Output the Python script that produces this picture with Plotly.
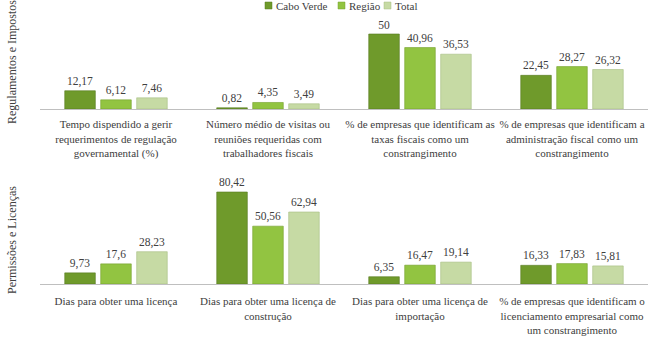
import plotly.graph_objects as go

W, H = 648, 344

series = ["Cabo Verde", "Região", "Total"]
colors = ["#6f9a2b", "#92c441", "#c6daa4"]
line_colors = ["#56781f", "#74a02c", "#a6bd82"]

cats_top = [
    "Tempo dispendido a gerir<br>requerimentos de regulação<br>governamental (%)",
    "Número médio de visitas ou<br>reuniões requeridas com<br>trabalhadores fiscais",
    "% de empresas que identificam as<br>taxas fiscais como um<br>constrangimento",
    "% de empresas que identificam a<br>administração fiscal como um<br>constrangimento",
]
cabo_top = [12.17, 0.82, 50, 22.45]
regiao_top = [6.12, 4.35, 40.96, 28.27]
total_top = [7.46, 3.49, 36.53, 26.32]

cats_bot = [
    "Dias para obter uma licença",
    "Dias para obter uma licença de<br>construção",
    "Dias para obter uma licença de<br>importação",
    "% de empresas que identificam o<br>licenciamento empresarial como<br>um constrangimento",
]
cabo_bot = [9.73, 80.42, 6.35, 16.33]
regiao_bot = [17.6, 50.56, 16.47, 17.83]
total_bot = [28.23, 62.94, 19.14, 15.81]

panel_titles = ["Regulamentos e Impostos", "Permissões e Licenças"]

FONT = "Liberation Serif, Times New Roman, serif"
TXT = "#404040"


def fmt(v):
    return f"{v:g}".replace(".", ",")


fig = go.Figure()
for cats, data, xa, ya in [
    (cats_top, [cabo_top, regiao_top, total_top], "x", "y"),
    (cats_bot, [cabo_bot, regiao_bot, total_bot], "x2", "y2"),
]:
    for i, name in enumerate(series):
        fig.add_trace(go.Bar(
            x=cats, y=data[i], name=name, xaxis=xa, yaxis=ya,
            marker=dict(color=colors[i], line=dict(color=line_colors[i], width=0.6)),
            text=[fmt(v) for v in data[i]], textposition="outside",
            textfont=dict(family=FONT, size=11.5, color=TXT),
            cliponaxis=False, showlegend=False,
        ))

xdom = [40 / W, 1.0]
axis_common = dict(showline=True, linecolor="#bfbfbf", linewidth=1, ticks="",
                   tickfont=dict(family=FONT, size=11, color=TXT),
                   showgrid=False, zeroline=False, fixedrange=True)
yaxis_common = dict(visible=False, showgrid=False, zeroline=False, fixedrange=True)

fig.update_layout(
    width=W, height=H,
    margin=dict(l=0, r=0, t=0, b=0, autoexpand=False),
    paper_bgcolor="white", plot_bgcolor="white",
    barmode="group", bargap=0.29, bargroupgap=0.15,
    xaxis=dict(domain=xdom, anchor="y", ticklabelstandoff=5, **axis_common),
    yaxis=dict(domain=[1 - 109 / H, 1 - 22 / H], range=[0, 87 / 1.5], anchor="x", **yaxis_common),
    xaxis2=dict(domain=xdom, anchor="y2", ticklabelstandoff=7, **axis_common),
    yaxis2=dict(domain=[1 - 284 / H, 1 - 172 / H], range=[0, 112 / 1.144], anchor="x2", **yaxis_common),
    font=dict(family=FONT, color=TXT),
)

# panel titles
for title, yc in zip(panel_titles, [62, 240]):
    fig.add_annotation(text=title, xref="paper", yref="paper", x=12 / W, y=1 - yc / H,
                       textangle=-90, showarrow=False, xanchor="center", yanchor="middle",
                       font=dict(family=FONT, size=12, color=TXT))

# legend at the top
leg_x = [268, 341, 387]
for name, c, lc, x0 in zip(series, colors, line_colors, leg_x):
    fig.add_shape(type="rect", xref="paper", yref="paper",
                  x0=(x0 - 3) / W, x1=(x0 + 4) / W, y0=1 - 9 / H, y1=1 - 2 / H,
                  fillcolor=c, line=dict(color=lc, width=0.5))
    fig.add_annotation(text=name, xref="paper", yref="paper", x=(x0 + 6) / W, y=1 - 5.5 / H,
                       showarrow=False, xanchor="left", yanchor="middle",
                       font=dict(family=FONT, size=11, color=TXT))

fig.write_html("out.html")
